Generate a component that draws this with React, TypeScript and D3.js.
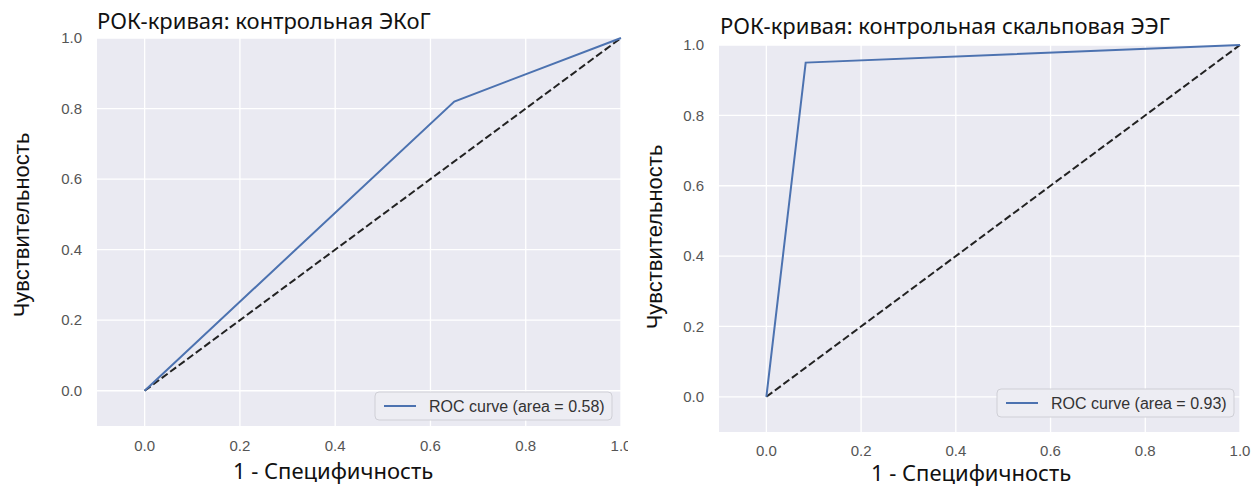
import React from 'react';
import * as d3 from 'd3';

// ROC points
const ecogFpr = [0, 0.65, 1];
const ecogTpr = [0, 0.82, 1];
const eegFpr = [0, 0.083, 1];
const eegTpr = [0, 0.95, 1];
const chance = [0, 1];
const tickValues = [0, 0.2, 0.4, 0.6, 0.8, 1.0];
const titles = ['РОК-кривая: контрольная ЭКоГ', 'РОК-кривая: контрольная скальповая ЭЭГ'];
const legendLabels = ['ROC curve (area = 0.58)', 'ROC curve (area = 0.93)'];
const xLabel = '1 - Специфичность';
const yLabel = 'Чувствительность';

const panels = [
  { fpr: ecogFpr, tpr: ecogTpr, title: titles[0], legend: legendLabels[0],
    left: 97, right: 621, top: 38, bottom: 426, clipX: 0, clipW: 628,
    titleX: 97, titleY: 29, yLabX: 29, yLabY: 225, xLabX: 333, xLabY: 479,
    legX: 375, legY: 392, legW: 237, xTickDy: 20 },
  { fpr: eegFpr, tpr: eegTpr, title: titles[1], legend: legendLabels[1],
    left: 719, right: 1240, top: 45, bottom: 432, clipX: 630, clipW: 630,
    titleX: 720, titleY: 34, yLabX: 662, yLabY: 237, xLabX: 971, xLabY: 481,
    legX: 997, legY: 389, legW: 237, xTickDy: 19 },
];

const tickFont = 'Arial, "Liberation Sans", sans-serif';
const labelFont = '"Noto Sans", "Open Sans", sans-serif';

function Panel({ p, i }: { p: any; i: number }) {
  const x = d3.scaleLinear().domain([-0.1, 1.0]).range([p.left, p.right]);
  const y = d3.scaleLinear().domain([-0.1, 1.0]).range([p.bottom, p.top]);
  const line = d3.line<number>().x((d, k) => x(p.fpr[k])).y((d) => y(d));
  const diag = d3.line<number>().x((d) => x(d)).y((d) => y(d));
  const fmt = d3.format('.1f');
  return (
    <g clipPath={`url(#clip${i})`}>
      <defs>
        <clipPath id={`clip${i}`}>
          <rect x={p.clipX} y={0} width={p.clipW} height={486} />
        </clipPath>
        <clipPath id={`plot${i}`}>
          <rect x={p.left} y={p.top - 2} width={p.right - p.left + 2} height={p.bottom - p.top + 2} />
        </clipPath>
      </defs>
      <rect x={p.left} y={p.top} width={p.right - p.left} height={p.bottom - p.top} fill="#EAEAF2" />
      {tickValues.map((t) => (
        <g key={'g' + t}>
          <line x1={x(t)} x2={x(t)} y1={p.top} y2={p.bottom} stroke="#fff" strokeWidth={1.3} />
          <line x1={p.left} x2={p.right} y1={y(t)} y2={y(t)} stroke="#fff" strokeWidth={1.3} />
        </g>
      ))}
      {tickValues.map((t) => (
        <text key={'y' + t} x={p.left - 15} y={y(t)} dy="0.35em" textAnchor="end"
          fontFamily={tickFont} fontSize={15} fill="#555">{fmt(t)}</text>
      ))}
      {tickValues.map((t) => (
        <text key={'x' + t} x={x(t)} y={p.bottom + p.xTickDy} dy="0.35em" textAnchor="middle"
          fontFamily={tickFont} fontSize={15} fill="#555">{fmt(t)}</text>
      ))}
      <g clipPath={`url(#plot${i})`}>
        <path d={diag(chance) || ''} fill="none" stroke="#222" strokeWidth={2} strokeDasharray="7.4,3.2" />
        <path d={line(p.tpr) || ''} fill="none" stroke="#4C72B0" strokeWidth={2} />
      </g>
      <rect x={p.legX} y={p.legY} width={p.legW} height={28} rx={4} fill="#EDEDF3" stroke="#CFCFD6" />
      <line x1={p.legX + 9} x2={p.legX + 41} y1={p.legY + 14} y2={p.legY + 14} stroke="#4C72B0" strokeWidth={2} />
      <text x={p.legX + 54} y={p.legY + 14} dy="0.35em" fontFamily={tickFont} fontSize={16} fill="#333">{p.legend}</text>
      <text x={p.titleX} y={p.titleY} fontFamily={labelFont} fontSize={22} fill="#111">{p.title}</text>
      <text x={p.xLabX} y={p.xLabY} textAnchor="middle" fontFamily={labelFont} fontSize={22} fill="#111">{xLabel}</text>
      <text transform={`translate(${p.yLabX},${p.yLabY}) rotate(-90)`} textAnchor="middle"
        fontFamily={tickFont} fontSize={22} fill="#111">{yLabel}</text>
    </g>
  );
}

export default function App() {
  return (
    <div style={{ position: 'absolute', left: 0, top: 0 }}>
      <svg width={1260} height={486} style={{ display: 'block', background: '#fff' }}>
        {panels.map((p, i) => <Panel key={i} p={p} i={i} />)}
      </svg>
    </div>
  );
}
